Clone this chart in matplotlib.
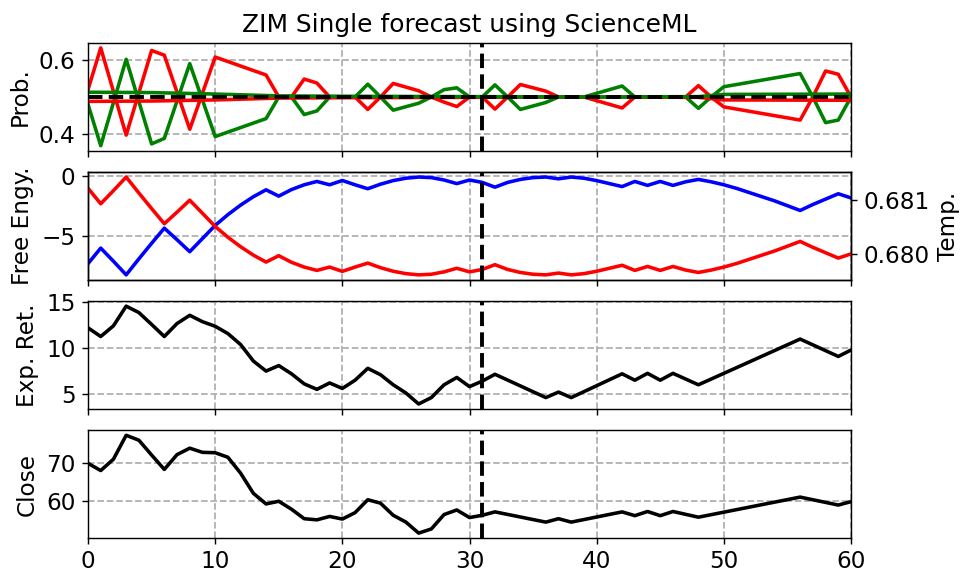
import numpy as np
import matplotlib.pyplot as plt

# probability of up / down moves (sparse days)
prob_x = [0, 1, 3, 5, 6, 8, 10, 14, 15, 16, 17, 18, 19, 21, 22, 23, 24, 26, 27, 28, 29,
          30, 31, 32, 33, 34, 36, 37, 39, 40, 42, 43, 47, 48, 49, 50, 56, 57, 58, 59, 60]
prob_up = [0.52, 0.634, 0.396, 0.627, 0.614, 0.412, 0.609, 0.56, 0.5, 0.5, 0.549, 0.538, 0.5,
           0.5, 0.466, 0.5, 0.537, 0.517, 0.5, 0.486, 0.474, 0.5, 0.5, 0.467, 0.5, 0.534, 0.516,
           0.5, 0.5, 0.49, 0.47, 0.5, 0.5, 0.531, 0.5, 0.473, 0.437, 0.5, 0.571, 0.562, 0.5]
prob_down = [0.48, 0.367, 0.603, 0.372, 0.387, 0.591, 0.392, 0.441, 0.5, 0.5, 0.452, 0.462, 0.5,
             0.5, 0.535, 0.5, 0.464, 0.483, 0.5, 0.52, 0.525, 0.5, 0.5, 0.533, 0.5, 0.466, 0.485,
             0.5, 0.5, 0.51, 0.53, 0.5, 0.5, 0.469, 0.5, 0.528, 0.564, 0.5, 0.43, 0.437, 0.5]

# smoothed probabilities
avg_x = [0, 5, 10, 15, 20, 30, 40, 48, 50, 60]
avg_up = [0.488, 0.489, 0.492, 0.497, 0.498, 0.499, 0.5, 0.499, 0.492, 0.491]
avg_down = [0.513, 0.512, 0.508, 0.503, 0.502, 0.501, 0.5, 0.501, 0.507, 0.508]

# free energy and temperature (every day)
fe_x = list(range(61))
free_energy = [-7.3, -6.0, -7.1, -8.24, -6.9, -5.6, -4.33, -5.3, -6.3, -5.2,
               -4.1, -3.2, -2.4, -1.7, -1.12, -1.65, -1.1, -0.7, -0.42, -0.7,
               -0.34, -0.7, -1.03, -0.65, -0.35, -0.15, -0.05, -0.1, -0.3, -0.6,
               -0.3, -0.5, -0.9, -0.5, -0.25, -0.1, -0.05, -0.2, -0.05, -0.15,
               -0.35, -0.6, -0.85, -0.42, -0.75, -0.42, -0.75, -0.45, -0.25, -0.45,
               -0.7, -1.0, -1.35, -1.7, -2.05, -2.45, -2.85, -2.35, -1.9, -1.45, -1.8]
temperature = [0.681217, 0.680931, 0.681173, 0.681423, 0.681129, 0.680843, 0.680564,
               0.680777, 0.680997, 0.680756, 0.680514, 0.680316, 0.680141, 0.679987,
               0.679859, 0.679976, 0.679855, 0.679767, 0.679706, 0.679767, 0.679688,
               0.679767, 0.679840, 0.679756, 0.679690, 0.679646, 0.679624, 0.679635,
               0.679679, 0.679745, 0.679679, 0.679723, 0.679811, 0.679723, 0.679668,
               0.679635, 0.679624, 0.679657, 0.679624, 0.679646, 0.679690, 0.679745,
               0.679800, 0.679706, 0.679778, 0.679706, 0.679778, 0.679712, 0.679668,
               0.679712, 0.679767, 0.679833, 0.679910, 0.679987, 0.680064, 0.680151,
               0.680239, 0.680130, 0.680031, 0.679932, 0.680009]

# price and expected return
px_x = list(range(33)) + [36, 37, 38, 42, 43, 44, 45, 46, 48, 56, 59, 60]
exp_ret = [12.23, 11.28, 12.45, 14.6, 13.9, 12.6, 11.28, 12.7, 13.6, 12.9, 12.4, 11.6,
           10.4, 8.6, 7.5, 8.1, 7.2, 6.1, 5.5, 6.2, 5.6, 6.5, 7.8, 7.1, 6.0, 5.1, 3.9,
           4.6, 6.0, 6.8, 5.8, 6.4, 7.15, 4.6, 5.2, 4.6, 7.2, 6.5, 7.25, 6.5, 7.25, 6.0,
           11.0, 9.1, 9.8]
close = [70.0, 68.1, 71.1, 77.4, 76.1, 72.2, 68.4, 72.3, 74.0, 72.9, 72.8, 71.6, 67.4,
         62.1, 59.3, 60.0, 57.9, 55.4, 55.1, 56.0, 55.3, 57.0, 60.4, 59.5, 56.3, 54.5,
         51.6, 52.7, 56.5, 57.7, 55.7, 56.3, 57.2, 54.5, 55.4, 54.5, 57.2, 56.2, 57.3,
         56.2, 57.3, 55.8, 61.1, 59.0, 59.9]

today = 31
lw = 2.0
plt.rcParams['font.size'] = 13
grid_kw = dict(color='#b0b0b0', linestyle='--', linewidth=1)

fig, axs = plt.subplots(4, 1, sharex=True, figsize=(963 / 128, 578 / 128), dpi=128)
fig.subplots_adjust(left=0.0914, right=0.8837, top=0.9256, bottom=0.0692, hspace=0.2)

ax = axs[0]
ax.plot(prob_x, prob_up, color='red', lw=lw)
ax.plot(prob_x, prob_down, color='green', lw=lw)
ax.plot(avg_x, avg_up, color='red', lw=lw)
ax.plot(avg_x, avg_down, color='green', lw=lw)
ax.axhline(0.5, color='black', ls='--', lw=2.2)
ax.set_yticks([0.4, 0.6])
ax.set_ylabel('Prob.')
ax.set_title('ZIM Single forecast using ScienceML', fontsize=14)

ax = axs[1]
ax.plot(fe_x, free_energy, color='blue', lw=lw)
ax.set_yticks([-5, 0])
ax.set_ylabel('Free Engy.')
ax2 = ax.twinx()
ax2.plot(fe_x, temperature, color='red', lw=lw)
ax2.set_yticks([0.680, 0.681])
ax2.set_yticklabels(['0.680', '0.681'])
ax2.set_ylabel('Temp.')
ax2.axvline(today, color='black', ls='--', lw=2.2)

ax = axs[2]
ax.plot(px_x, exp_ret, color='black', lw=lw)
ax.set_yticks([5, 10, 15])
ax.set_ylabel('Exp. Ret.')

ax = axs[3]
ax.plot(px_x, close, color='black', lw=lw)
ax.set_yticks([60, 70])
ax.set_ylabel('Close')

for i, a in enumerate(axs):
    a.grid(True, **grid_kw)
    if i != 1:
        a.axvline(today, color='black', ls='--', lw=2.2)
axs[0].set_xlim(0, 60)
axs[3].set_xticks([0, 10, 20, 30, 40, 50, 60])

fig.savefig('out.png', dpi=128)
